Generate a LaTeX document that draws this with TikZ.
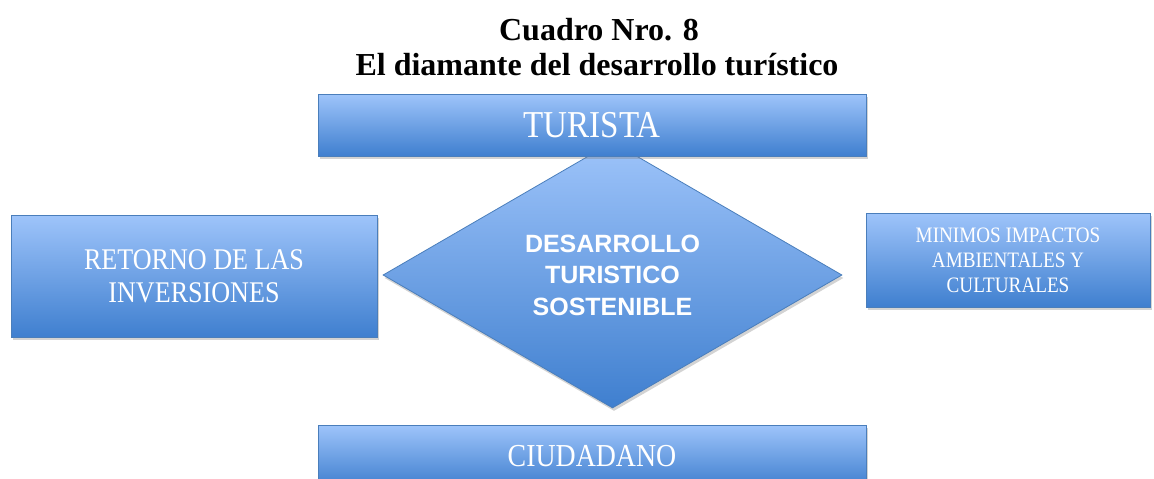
\documentclass[tikz,border=0pt]{standalone}
\usepackage{fontspec}
\setmainfont{Liberation Serif}
\newfontfamily\boxfont[FakeStretch=0.87]{Liberation Serif}
\newfontfamily\diafont{Liberation Sans}
\usetikzlibrary{shapes.geometric,shadows}

\definecolor{bluetop}{HTML}{9EC4FA}
\definecolor{bluebot}{HTML}{3F7FCF}
\definecolor{blueline}{HTML}{4A7EBB}

\tikzset{
    bluebox/.style={draw=blueline, line width=0.8pt, top color=bluetop, bottom color=bluebot,
        drop shadow={shadow xshift=1.5pt, shadow yshift=-3pt, opacity=0.35},
        text=white, align=center, inner sep=0pt},
    titletext/.style={anchor=base, inner sep=0pt, font=\bfseries\fontsize{32}{34}\selectfont}
}

\begin{document}
\begin{tikzpicture}[x=1pt,y=-1pt]
            \useasboundingbox (0,0) rectangle (1154,479);

            \node[titletext] (tit1) at (599,40) {Cuadro Nro. 8};
            \node[titletext] (tit2) at (597,75) {El diamante del desarrollo turístico};

            % diamond first, the top box hides its tip
            \node[diamond, bluebox, minimum width=459pt, minimum height=266pt,
                font=\diafont\bfseries\fontsize{25}{31.5}\selectfont] (dts) at (612.5,275)
                {DESARROLLO\\TURISTICO\\SOSTENIBLE};

            \node[bluebox, minimum width=548pt, minimum height=62pt,
                font=\boxfont\fontsize{38}{40}\selectfont] (tur) at (592,125) {TURISTA};
            \node[bluebox, minimum width=366pt, minimum height=122pt,
                font=\boxfont\fontsize{30}{33}\selectfont] (ret) at (194,276) {RETORNO DE LAS\\INVERSIONES};
            \node[bluebox, minimum width=284pt, minimum height=94pt,
                font=\boxfont\fontsize{22}{25}\selectfont] (imp) at (1008,260) {MINIMOS IMPACTOS\\AMBIENTALES Y\\CULTURALES};
            \node[bluebox, minimum width=548pt, minimum height=62pt,
                font=\boxfont\fontsize{32}{36}\selectfont] (ciu) at (592,456) {CIUDADANO};
\end{tikzpicture}
\end{document}
